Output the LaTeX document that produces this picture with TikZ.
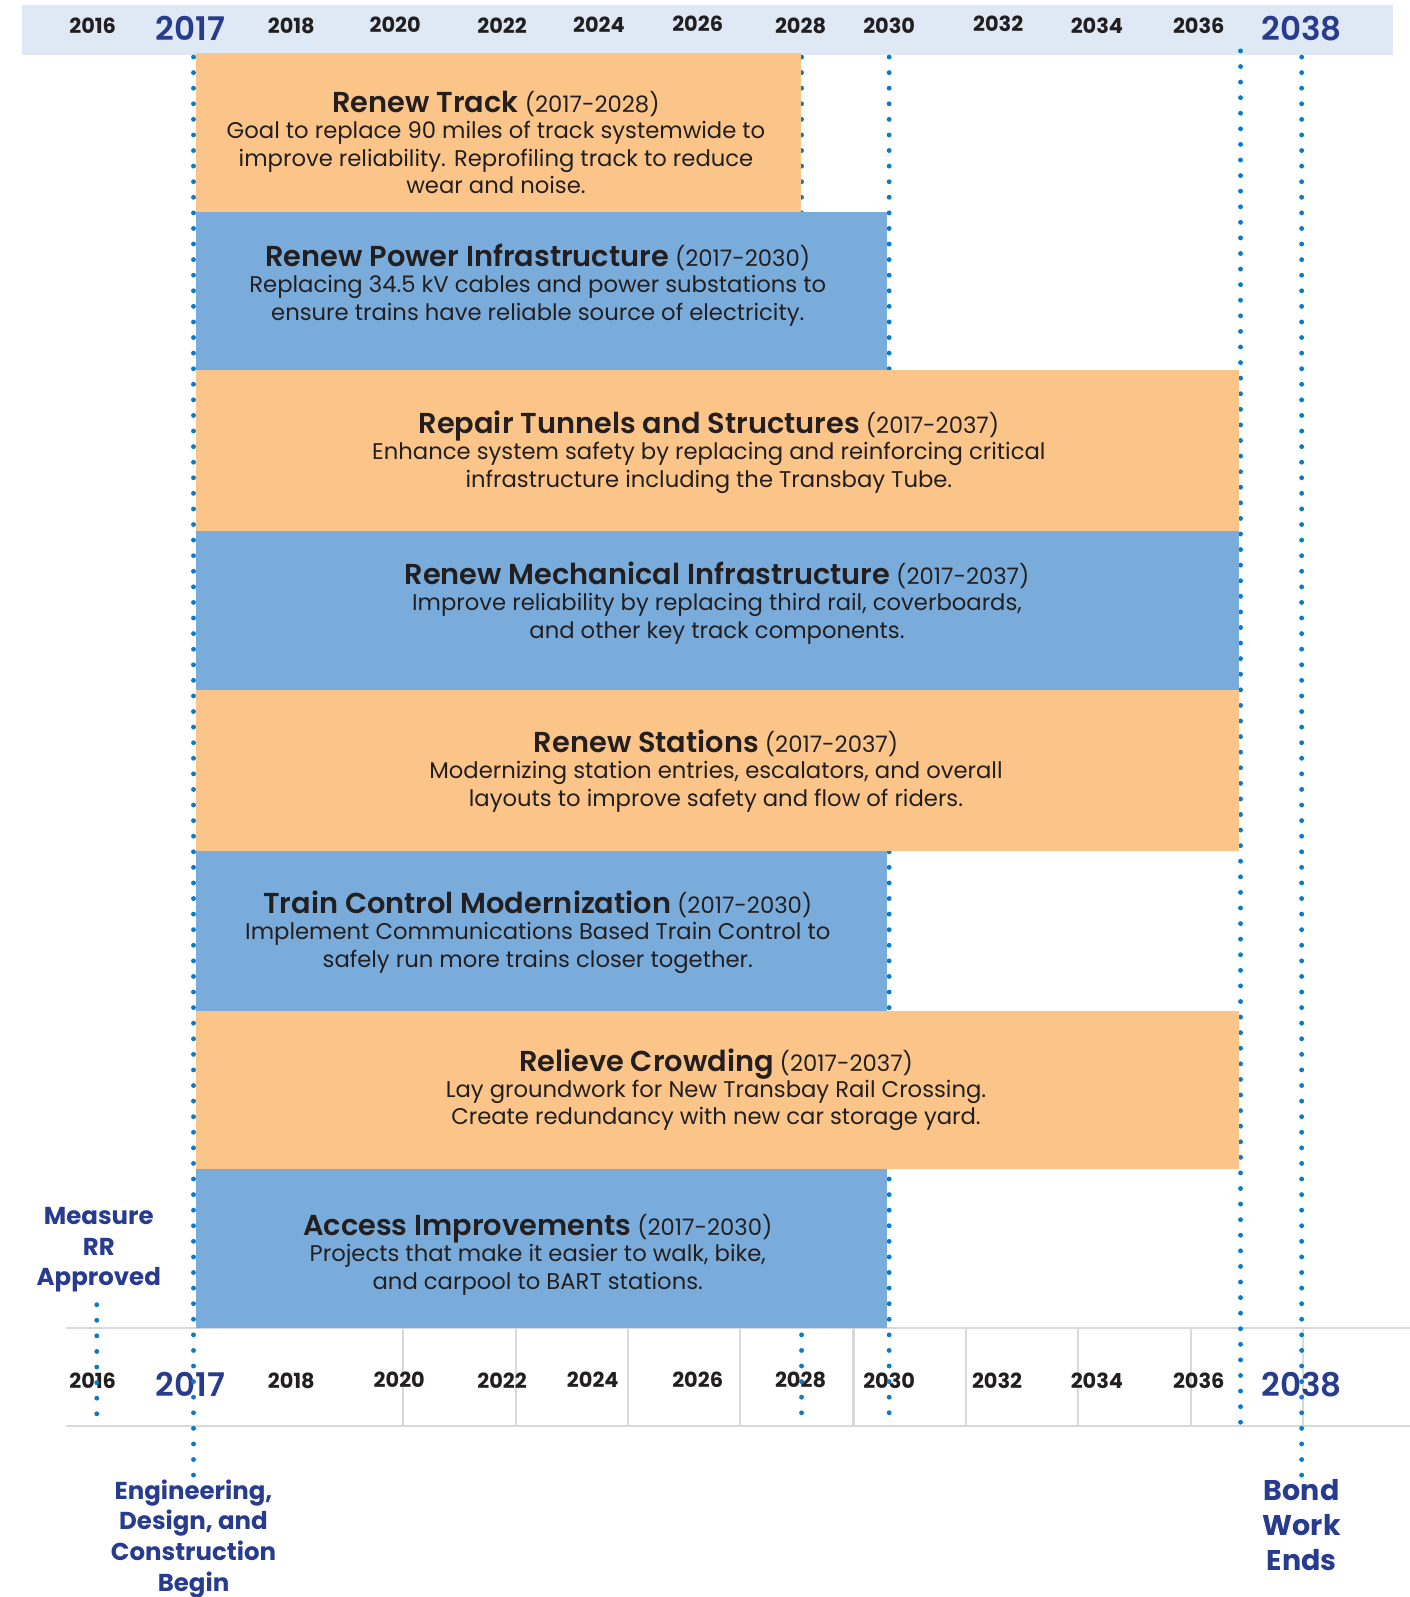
\documentclass[tikz,border=0pt]{standalone}
\usepackage{fontspec}
\setmainfont{Poppins}[BoldFont={Poppins SemiBold}]
\newfontfamily\pbold{Poppins Bold}
\definecolor{band}{HTML}{DFE9F5}
\definecolor{orng}{HTML}{FBC489}
\definecolor{blu}{HTML}{7AACDB}
\definecolor{dotc}{HTML}{0A7BC9}
\definecolor{navy}{HTML}{273C8E}
\definecolor{ink}{HTML}{231F20}
\definecolor{gridc}{HTML}{D9D9D9}
\tikzset{
  dotline/.style={draw=dotc, line width=4.8pt, line cap=round, dash pattern=on 0pt off 15.3pt},
  bar/.style={rectangle, anchor=north west, inner sep=0pt},
  orbar/.style={bar, fill=orng},
  blbar/.style={bar, fill=blu},
  bartext/.style={text=ink, align=center, inner sep=0pt, font=\fontsize{22.3}{27.2}\selectfont},
  yr/.style={font=\pbold\fontsize{20.5}{22}\selectfont, text=ink, inner sep=0pt},
  yrbig/.style={font=\bfseries\fontsize{32}{34}\selectfont, text=navy, inner sep=0pt},
  lbl/.style={font=\pbold\fontsize{24}{30.3}\selectfont, text=navy, align=center, inner sep=0pt},
  lblbig/.style={font=\pbold\fontsize{28}{34.5}\selectfont, text=navy, align=center, inner sep=0pt},
  gridl/.style={draw=gridc, line width=2pt}
}
\newcommand{\ttl}[2]{{\bfseries\fontsize{28.3}{28}\selectfont #1} #2\\[-1.5pt]}
\begin{document}
\begin{tikzpicture}[x=1pt,y=-1pt]
\useasboundingbox (0,0) rectangle (1384,1568);
% top band
\fill[band] (22,5) rectangle (1368,54);
% top years
\node[yr] (t16) at (91,25) {2016};
\node[yrbig] (t17) at (187,28) {2017};
\node[yr] (t18) at (286,25) {2018};
\node[yr] (t20) at (388,24) {2020};
\node[yr] (t22) at (493,25) {2022};
\node[yr] (t24) at (588,24) {2024};
\node[yr] (t26) at (685,23) {2026};
\node[yr] (t28) at (786,25) {2028};
\node[yr] (t30) at (873,25) {2030};
\node[yr] (t32) at (980,23) {2032};
\node[yr] (t34) at (1077,25) {2034};
\node[yr] (t36) at (1177,25) {2036};
\node[yrbig] (t38) at (1278,28) {2038};
% bottom axis grid
\draw[gridl] (65,1304) -- (1384,1304);
\draw[gridl] (65,1400) -- (1384,1400);
\foreach \gx in {396,507,617,727,838,948,1058,1169,1279}
  \draw[gridl] (\gx,1304) -- (\gx,1400);
% bottom years
\node[yr] (b16) at (91,1356) {2016};
\node[yrbig] (b17) at (187,1359) {2017};
\node[yr] (b18) at (286,1356) {2018};
\node[yr] (b20) at (392,1355) {2020};
\node[yr] (b22) at (493,1356) {2022};
\node[yr] (b24) at (582,1355) {2024};
\node[yr] (b26) at (685,1355) {2026};
\node[yr] (b28) at (786,1355) {2028};
\node[yr] (b30) at (873,1356) {2030};
\node[yr] (b32) at (979,1356) {2032};
\node[yr] (b34) at (1077,1356) {2034};
\node[yr] (b36) at (1177,1356) {2036};
\node[yrbig] (b38) at (1278,1359) {2038};
% milestone labels
\node[lbl] (measure) at (97,1227) {Measure\\RR\\Approved};
\node[lbl] (eng) at (190,1511) {Engineering,\\Design, and\\Construction\\Begin};
\node[lblbig] (bond) at (1278,1497) {Bond\\Work\\Ends};
% dotted guide lines
\coordinate (d16a) at (95,1281);  \coordinate (d16b) at (95,1395);
\coordinate (d17a) at (190,56);   \coordinate (d17b) at (190,1452);
\coordinate (d28a) at (787,56);   \coordinate (d28b) at (787,1395);
\coordinate (d30a) at (873,56);   \coordinate (d30b) at (873,1390);
\coordinate (d37a) at (1218,50);  \coordinate (d37b) at (1218,1397);
\coordinate (d38a) at (1278,56);  \coordinate (d38b) at (1278,1450);
\draw[dotline] (d16a) -- (d16b);
\draw[dotline] (d17a) -- (d17b);
\draw[dotline] (d28a) -- (d28b);
\draw[dotline] (d30a) -- (d30b);
\draw[dotline] (d37a) -- (d37b);
\draw[dotline] (d38a) -- (d38b);
% bars
\node[orbar, minimum width=594pt, minimum height=156pt] (r1) at (192,52) {};
\node[blbar, minimum width=679pt, minimum height=155pt] (r2) at (192,208) {};
\node[orbar, minimum width=1024pt, minimum height=158pt] (r3) at (192,363) {};
\node[blbar, minimum width=1024pt, minimum height=156pt] (r4) at (192,521) {};
\node[orbar, minimum width=1024pt, minimum height=158pt] (r5) at (192,677) {};
\node[blbar, minimum width=679pt, minimum height=157pt] (r6) at (192,835) {};
\node[orbar, minimum width=1024pt, minimum height=156pt] (r7) at (192,992) {};
\node[blbar, minimum width=679pt, minimum height=156pt] (r8) at (192,1148) {};
% bar texts
\node[bartext] (x1) at (487,140)
  {\ttl{Renew Track}{(2017-2028)}Goal to replace 90 miles of track systemwide to\\improve reliability. Reprofiling track to reduce\\wear and noise.};
\node[bartext] (x2) at (528,280)
  {\ttl{Renew Power Infrastructure}{(2017-2030)}Replacing 34.5 kV cables and power substations to\\ensure trains have reliable source of electricity.};
\node[bartext] (x3) at (696,444)
  {\ttl{Repair Tunnels and Structures}{(2017-2037)}Enhance system safety by replacing and reinforcing critical\\infrastructure including the Transbay Tube.};
\node[bartext] (x4) at (704,592)
  {\ttl{Renew Mechanical Infrastructure}{(2017-2037)}Improve reliability by replacing third rail, coverboards,\\and other key track components.};
\node[bartext] (x5) at (703,757)
  {\ttl{Renew Stations}{(2017-2037)}Modernizing station entries, escalators, and overall\\layouts to improve safety and flow of riders.};
\node[bartext] (x6) at (528,915)
  {\ttl{Train Control Modernization}{(2017-2030)}Implement Communications Based Train Control to\\safely run more trains closer together.};
\node[bartext] (x7) at (703,1070)
  {\ttl{Relieve Crowding}{(2017-2037)}Lay groundwork for New Transbay Rail Crossing.\\Create redundancy with new car storage yard.};
\node[bartext] (x8) at (528,1232)
  {\ttl{Access Improvements}{(2017-2030)}Projects that make it easier to walk, bike,\\and carpool to BART stations.};
\end{tikzpicture}
\end{document}
